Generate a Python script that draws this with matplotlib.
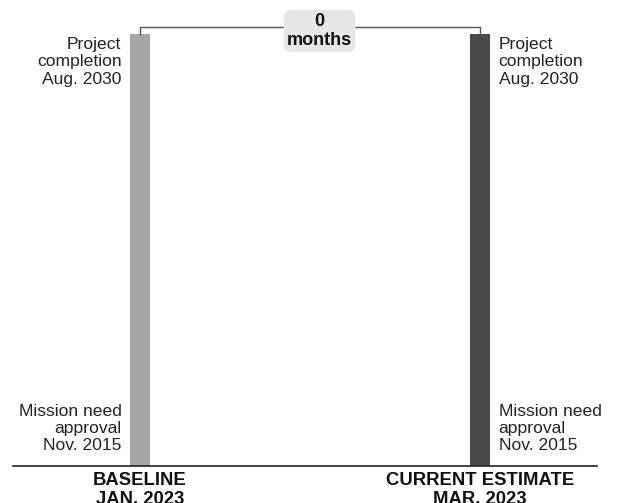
import matplotlib.pyplot as plt

plt.rcParams['font.family'] = ['Liberation Sans', 'DejaVu Sans']

# schedule data (decimal years)
categories = ["BASELINE\nJAN. 2023", "CURRENT ESTIMATE\nMAR. 2023"]
start_year = [2015 + 10 / 12, 2015 + 10 / 12]   # Nov. 2015
end_year = [2030 + 7 / 12, 2030 + 7 / 12]       # Aug. 2030
start_labels = ["Mission need\napproval\nNov. 2015", "Mission need\napproval\nNov. 2015"]
end_labels = ["Project\ncompletion\nAug. 2030", "Project\ncompletion\nAug. 2030"]
delay_months = 0
bar_colors = ["#a6a6a6", "#4a4a4a"]

W, H = 621, 503
fig = plt.figure(figsize=(W / 100, H / 100), dpi=100)
ax = fig.add_axes([13 / W, (H - 466) / H, 584 / W, 432 / H])

xs = list(range(len(categories)))
heights = [e - s for s, e in zip(start_year, end_year)]
ax.bar(xs, heights, bottom=start_year, width=0.06, color=bar_colors)

ax.set_xlim(-0.3735, 1.344)
ax.set_ylim(min(start_year), max(end_year))
for s in ["top", "left", "right"]:
    ax.spines[s].set_visible(False)
ax.spines["bottom"].set_linewidth(1.2)
ax.spines["bottom"].set_color("#222222")
ax.set_xticks([])
ax.set_yticks([])

fs = 12.6
for i, x in enumerate(xs):
    side = -1 if i == 0 else 1
    ha = "right" if i == 0 else "left"
    ax.annotate(end_labels[i], (x + side * 0.03, end_year[i]), xytext=(side * 6, -2),
                textcoords="offset points", ha=ha, va="top", fontsize=fs,
                color="#222222", linespacing=1.2)
    ax.annotate(start_labels[i], (x + side * 0.03, start_year[i]), xytext=(side * 6, 9),
                textcoords="offset points", ha=ha, va="bottom", fontsize=fs,
                color="#222222", linespacing=1.17)
    ax.annotate(categories[i], (x, start_year[i]), xytext=(0, -4),
                textcoords="offset points", ha="center", va="top", fontsize=13.3,
                fontweight="bold", color="#111111", linespacing=1.2,
                annotation_clip=False)

# bracket between the two completion dates
top = max(end_year)
yb = top + 7 / 29.3
ax.plot([xs[0], xs[0], xs[1], xs[1]], [top, yb, yb, top], color="#555555",
        lw=1, clip_on=False)
ax.text(0.528, yb - 4 / 29.3, f"{delay_months}\nmonths", ha="center", va="center",
        fontsize=13, fontweight="bold", color="#111111", linespacing=1.1,
        bbox=dict(boxstyle="round,pad=0.18,rounding_size=0.4", fc="#e6e6e6", ec="none"),
        clip_on=False)

fig.savefig("out.png", dpi=100)
